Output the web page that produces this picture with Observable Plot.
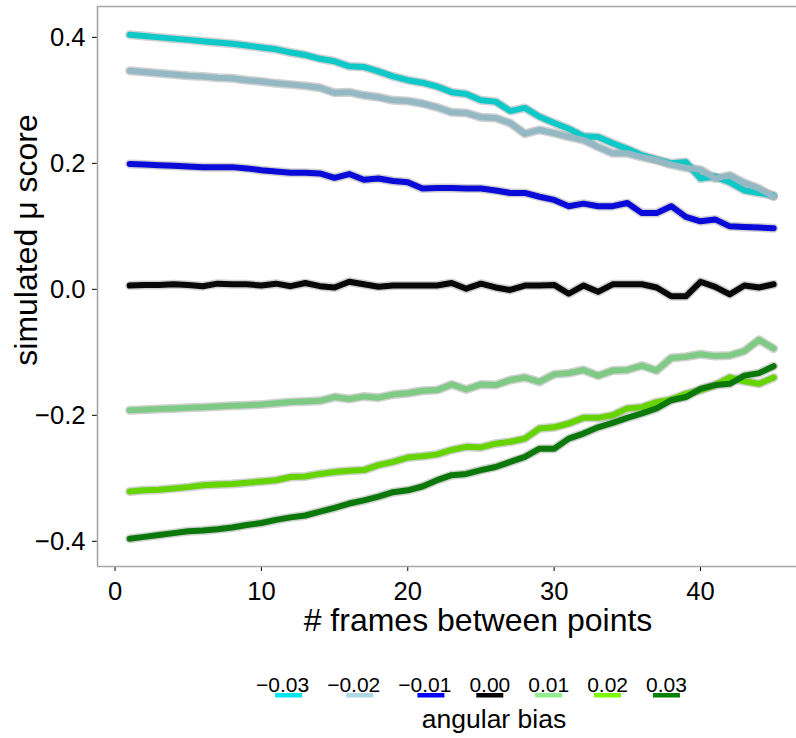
<!DOCTYPE html>
<html><head><meta charset="utf-8">
<script src="https://cdn.jsdelivr.net/npm/d3@7"></script>
<script src="https://cdn.jsdelivr.net/npm/@observablehq/plot@0.6"></script>
<style>
html,body{margin:0;padding:0;background:#fff;}
#chart{position:relative;width:796px;height:738px;overflow:hidden;font-family:"Liberation Sans",Arial,Helvetica,sans-serif;}
#chart svg{display:block;}
</style></head><body><div id="chart"></div>
<script>
const FONT = '"Liberation Sans", Arial, Helvetica, sans-serif';

// ---- data ----
const frames = [1,2,3,4,5,6,7,8,9,10,11,12,13,14,15,16,17,18,19,20,21,22,23,24,25,26,27,28,29,30,31,32,33,34,35,36,37,38,39,40,41,42,43,44,45];
const biasLabels = ["−0.03","−0.02","−0.01","0.00","0.01","0.02","0.03"];
const lineColors = ["#0fc9c9","#94b8c4","#0a0ad9","#080808","#7fcb85","#66d400","#0a790a"];
const keyColors  = ["#00e5ee","#add8e6","#0000ff","#000000","#90ee90","#7cfc00","#008000"];

const scoreNeg003 = [0.404,0.402,0.400,0.398,0.396,0.394,0.392,0.390,0.387,0.384,0.381,0.376,0.372,0.366,0.362,0.354,0.353,0.346,0.338,0.332,0.328,0.322,0.313,0.310,0.300,0.298,0.283,0.288,0.274,0.264,0.255,0.243,0.242,0.232,0.223,0.213,0.206,0.200,0.202,0.176,0.179,0.170,0.157,0.153,0.149];
const scoreNeg002 = [0.347,0.345,0.343,0.341,0.339,0.338,0.336,0.335,0.332,0.330,0.327,0.325,0.323,0.320,0.312,0.313,0.308,0.305,0.300,0.299,0.295,0.289,0.281,0.280,0.273,0.272,0.264,0.247,0.253,0.248,0.242,0.237,0.226,0.216,0.216,0.210,0.205,0.198,0.193,0.190,0.176,0.181,0.169,0.160,0.147];
const scoreNeg001 = [0.199,0.198,0.197,0.196,0.195,0.194,0.194,0.194,0.192,0.189,0.187,0.185,0.185,0.184,0.177,0.183,0.174,0.176,0.172,0.170,0.160,0.161,0.161,0.160,0.160,0.157,0.153,0.153,0.147,0.142,0.132,0.136,0.132,0.132,0.137,0.121,0.121,0.132,0.115,0.108,0.111,0.100,0.099,0.098,0.097];
const scoreZero   = [0.006,0.007,0.007,0.008,0.007,0.005,0.009,0.008,0.008,0.006,0.009,0.005,0.010,0.005,0.003,0.012,0.008,0.004,0.006,0.006,0.006,0.006,0.010,0.001,0.009,0.003,-0.001,0.006,0.006,0.007,-0.007,0.006,-0.004,0.008,0.008,0.008,0.003,-0.011,-0.011,0.012,0.004,-0.008,0.006,0.003,0.008];
const scorePos001 = [-0.192,-0.191,-0.190,-0.189,-0.188,-0.187,-0.186,-0.185,-0.184,-0.183,-0.181,-0.179,-0.178,-0.177,-0.171,-0.174,-0.170,-0.172,-0.167,-0.165,-0.161,-0.160,-0.151,-0.159,-0.151,-0.152,-0.144,-0.140,-0.147,-0.135,-0.133,-0.128,-0.137,-0.129,-0.128,-0.121,-0.129,-0.109,-0.107,-0.103,-0.106,-0.105,-0.098,-0.080,-0.094];
const scorePos002 = [-0.321,-0.319,-0.318,-0.316,-0.314,-0.311,-0.310,-0.309,-0.307,-0.305,-0.303,-0.298,-0.297,-0.293,-0.290,-0.288,-0.287,-0.279,-0.274,-0.267,-0.265,-0.262,-0.255,-0.250,-0.251,-0.245,-0.242,-0.237,-0.221,-0.219,-0.213,-0.204,-0.204,-0.200,-0.189,-0.187,-0.179,-0.175,-0.166,-0.160,-0.152,-0.140,-0.146,-0.150,-0.140];
const scorePos003 = [-0.396,-0.393,-0.390,-0.387,-0.384,-0.383,-0.381,-0.378,-0.374,-0.371,-0.366,-0.362,-0.359,-0.353,-0.347,-0.340,-0.335,-0.329,-0.322,-0.319,-0.313,-0.303,-0.295,-0.293,-0.287,-0.282,-0.274,-0.266,-0.253,-0.253,-0.237,-0.229,-0.219,-0.212,-0.204,-0.197,-0.189,-0.176,-0.171,-0.158,-0.152,-0.150,-0.137,-0.133,-0.122];

const xTicks = [0,10,20,30,40];
const yTicks = [-0.4,-0.2,0,0.2,0.4];
const xTitle = "# frames between points";
const yTitle = "simulated μ score";
const legendTitle = "angular bias";

const seriesValues = [scoreNeg003,scoreNeg002,scoreNeg001,scoreZero,scorePos001,scorePos002,scorePos003];
const rows = [];
seriesValues.forEach((vals, i) => vals.forEach((v, j) => rows.push({frame: frames[j], bias: biasLabels[i], score: v})));

// ---- plot ----
const W = 796, H = 650;
const xDomain = [-1.2, 46.56];
const yDomain = [-0.44, 0.449];
const borderColor = "#a6a6a6";

const plot = Plot.plot({
  width: W, height: H,
  marginLeft: 97, marginRight: 0, marginTop: 6, marginBottom: 84,
  style: {fontFamily: FONT, fontSize: "25.6px", color: "#000", background: "#fff", overflow: "visible"},
  x: {domain: xDomain, ticks: xTicks, tickSize: 5, tickPadding: 10, label: null, tickFormat: d3.format("d")},
  y: {domain: yDomain, ticks: yTicks, tickSize: 5, tickPadding: 7, label: null, tickFormat: d3.format(".1f")},
  color: {type: "ordinal", domain: biasLabels, range: lineColors},
  marks: [
    Plot.line(rows, {x: "frame", y: "score", z: "bias", stroke: "#999", strokeOpacity: 0.45, strokeWidth: 9, strokeLinejoin: "round"}),
    Plot.line(rows, {x: "frame", y: "score", z: "bias", stroke: "bias", strokeWidth: 6, strokeLinejoin: "round"}),
    Plot.ruleX([xDomain[0]], {stroke: borderColor, strokeWidth: 1.6}),
    Plot.ruleY([yDomain[0], yDomain[1]], {stroke: borderColor, strokeWidth: 1.6})
  ]
});
const chart = document.getElementById("chart");
chart.appendChild(plot);

const svg = d3.select(plot);
svg.append("text").attr("transform", "translate(37,240) rotate(-90)")
  .attr("text-anchor", "middle").attr("font-size", 32).attr("fill", "#000").text(yTitle);
svg.append("text").attr("x", 478).attr("y", 631)
  .attr("text-anchor", "middle").attr("font-size", 32).attr("fill", "#000").text(xTitle);

// ---- legend ----
const LH = 738 - H;
const leg = d3.select(chart).append("svg").attr("width", W).attr("height", LH)
  .style("font-family", FONT);
let left = 256;
const gap = 18;
biasLabels.forEach((lab, i) => {
  const t = leg.append("text").attr("x", left).attr("y", 42).attr("font-size", 21).attr("fill", "#000").text(lab);
  const w = t.node().getComputedTextLength();
  const right = left + w;
  leg.append("rect").attr("x", right - 7 - 27).attr("y", 43).attr("width", 27).attr("height", 4.5).attr("fill", keyColors[i]);
  left = right + gap;
});
leg.append("text").attr("x", 494).attr("y", 78).attr("text-anchor", "middle").attr("font-size", 26.5).attr("fill", "#000").text(legendTitle);
</script>
</body></html>
